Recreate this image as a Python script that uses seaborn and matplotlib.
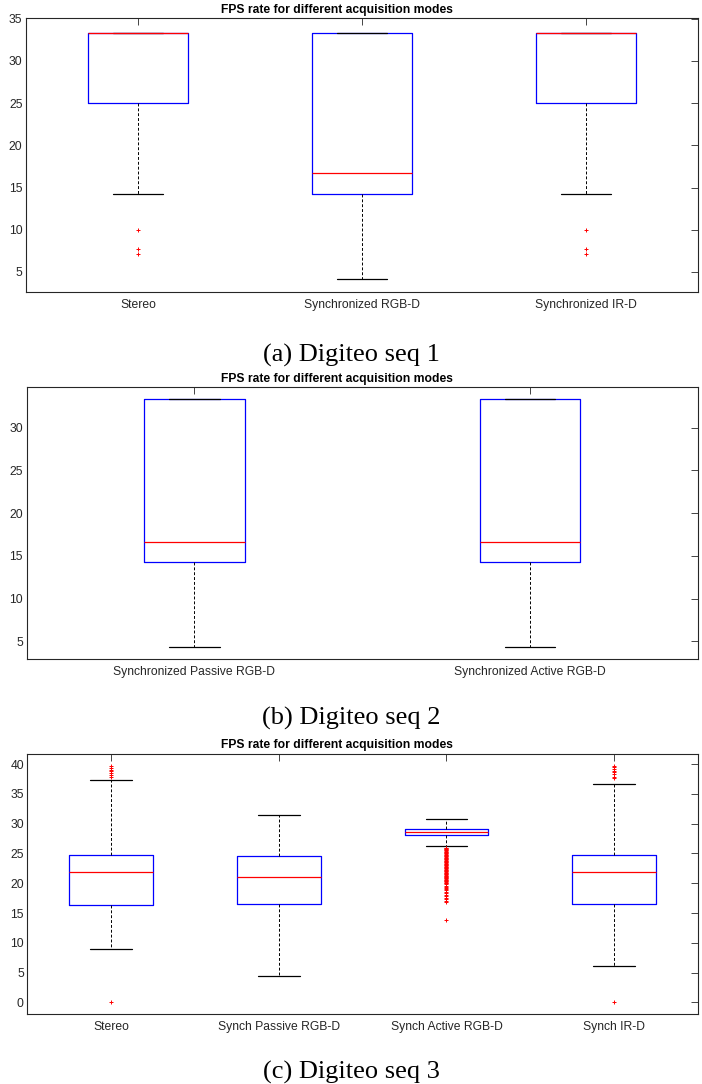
import matplotlib
matplotlib.use("Agg")
import matplotlib.pyplot as plt
import seaborn as sns

# Digiteo seq 1
seq1_labels = ["Stereo", "Synchronized RGB-D", "Synchronized IR-D"]
seq1_whislo = [14.29, 4.17, 14.29]
seq1_q1 = [25.0, 14.29, 25.0]
seq1_med = [33.33, 16.67, 33.33]
seq1_q3 = [33.33, 33.33, 33.33]
seq1_whishi = [33.33, 33.33, 33.33]
seq1_fliers = [[10.0, 7.69, 7.14], [], [10.0, 7.69, 7.14]]

# Digiteo seq 2
seq2_labels = ["Synchronized Passive RGB-D", "Synchronized Active RGB-D"]
seq2_whislo = [4.35, 4.35]
seq2_q1 = [14.29, 14.29]
seq2_med = [16.67, 16.67]
seq2_q3 = [33.33, 33.33]
seq2_whishi = [33.33, 33.33]
seq2_fliers = [[], []]

# Digiteo seq 3
seq3_labels = ["Stereo", "Synch Passive RGB-D", "Synch Active RGB-D", "Synch IR-D"]
seq3_whislo = [8.88, 4.47, 26.2, 6.1]
seq3_q1 = [16.3, 16.48, 28.04, 16.48]
seq3_med = [21.94, 21.1, 28.65, 21.84]
seq3_q3 = [24.74, 24.52, 29.15, 24.69]
seq3_whishi = [37.4, 31.39, 30.77, 36.58]
seq3_fliers = [
    [0.0, 37.9, 38.2, 38.5, 38.8, 39.0, 39.3, 39.7],
    [],
    [26.0, 25.9, 25.8, 25.7, 25.6, 25.5, 25.4, 25.3, 25.2, 25.1, 25.0,
     24.9, 24.8, 24.7, 24.6, 24.5, 24.4, 24.3, 24.2, 24.1, 24.0,
     23.9, 23.8, 23.7, 23.6, 23.5, 23.4, 23.3, 23.2, 23.1, 23.0,
     22.9, 22.8, 22.7, 22.6, 22.5, 22.4, 22.3, 22.2, 22.1, 22.0,
     21.9, 21.8, 21.7, 21.6, 21.5, 21.4, 21.3, 21.2, 21.1, 21.0,
     20.9, 20.8, 20.7, 20.6, 20.5, 20.4, 20.3, 20.2, 20.1, 20.0,
     19.8, 19.6, 19.4, 19.2, 19.0, 18.8, 18.6, 18.4, 18.1, 17.8,
     17.5, 17.3, 17.0, 16.8, 13.85],
    [0.0, 37.6, 37.9, 38.3, 38.6, 38.9, 39.2, 39.5, 39.7],
]

captions = ["(a) Digiteo seq 1", "(b) Digiteo seq 2", "(c) Digiteo seq 3"]
title = "FPS rate for different acquisition modes"

sns.set_style("white")
plt.rcParams['font.family'] = ['Liberation Sans', 'DejaVu Sans']

W, H = 702, 1084
fig = plt.figure(figsize=(W / 100, H / 100), dpi=100)


def make_stats(labels, lo, q1, med, q3, hi, fliers):
    return [dict(label=l, whislo=a, q1=b, med=c, q3=d, whishi=e, fliers=f)
            for l, a, b, c, d, e, f in zip(labels, lo, q1, med, q3, hi, fliers)]


panels = [
    (make_stats(seq1_labels, seq1_whislo, seq1_q1, seq1_med, seq1_q3, seq1_whishi, seq1_fliers),
     (26, 698, 18, 292), (2.63, 35.08), range(5, 36, 5), 0.45, 12.5, 362),
    (make_stats(seq2_labels, seq2_whislo, seq2_q1, seq2_med, seq2_q3, seq2_whishi, seq2_fliers),
     (26.5, 698, 387, 659), (2.94, 34.76), range(5, 31, 5), 0.30, 381.7, 725),
    (make_stats(seq3_labels, seq3_whislo, seq3_q1, seq3_med, seq3_q3, seq3_whishi, seq3_fliers),
     (27.3, 698, 754, 1014), (-1.95, 41.7), range(0, 41, 5), 0.50, 748, 1079),
]

axis_col = (0.15, 0.15, 0.15)

for i, (stats, (l, r, t, b), ylim, yticks, width, title_y, cap_y) in enumerate(panels):
    ax = fig.add_axes([l / W, 1 - b / H, (r - l) / W, (b - t) / H])
    n = len(stats)
    ax.bxp(stats, positions=range(1, n + 1), widths=width, showfliers=True,
           boxprops=dict(color='blue', lw=0.9),
           medianprops=dict(color='red', lw=0.9),
           whiskerprops=dict(color='black', lw=0.7, ls=(0, (3, 2))),
           capprops=dict(color='black', lw=0.9),
           flierprops=dict(marker='+', markeredgecolor='red', markersize=3.5,
                           markeredgewidth=0.7, ls='none'))
    ax.set_xlim(0.5, n + 0.5)
    ax.set_ylim(*ylim)
    ax.set_yticks(list(yticks))
    ax.tick_params(direction='in', top=True, right=True, length=5, width=0.6,
                   color=axis_col, labelcolor=axis_col, labelsize=8.7)
    ax.tick_params(axis='x', pad=5)
    ax.tick_params(axis='y', pad=2.5)
    for s in ax.spines.values():
        s.set_color(axis_col)
        s.set_linewidth(0.8)
    fig.text(336.5 / W, 1 - title_y / H, title, ha='center', va='baseline',
             fontsize=8.7, fontweight='bold', color='black')
    fig.text(351 / W, 1 - cap_y / H, captions[i], ha='center', va='baseline',
             fontsize=19, color='black', family=['Liberation Serif', 'DejaVu Serif'])

fig.savefig("out.png", dpi=100)
